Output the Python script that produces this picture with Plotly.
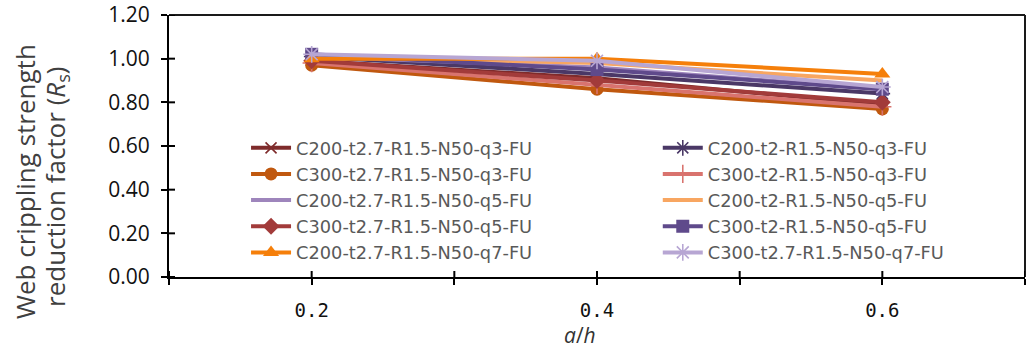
import plotly.graph_objects as go

# a/h ratios tested
a_h = [0.2, 0.4, 0.6]

# Reduction factor Rs for each specimen series
names = [
    "C200-t2.7-R1.5-N50-q3-FU",
    "C200-t2-R1.5-N50-q3-FU",
    "C300-t2.7-R1.5-N50-q3-FU",
    "C300-t2-R1.5-N50-q3-FU",
    "C200-t2.7-R1.5-N50-q5-FU",
    "C200-t2-R1.5-N50-q5-FU",
    "C300-t2.7-R1.5-N50-q5-FU",
    "C300-t2-R1.5-N50-q5-FU",
    "C200-t2.7-R1.5-N50-q7-FU",
    "C300-t2.7-R1.5-N50-q7-FU",
]
rs_c200_t27_q3 = [0.99, 0.91, 0.79]
rs_c200_t2_q3 = [1.01, 0.93, 0.84]
rs_c300_t27_q3 = [0.97, 0.86, 0.77]
rs_c300_t2_q3 = [0.98, 0.88, 0.78]
rs_c200_t27_q5 = [1.01, 0.96, 0.86]
rs_c200_t2_q5 = [1.01, 0.98, 0.90]
rs_c300_t27_q5 = [0.99, 0.90, 0.80]
rs_c300_t2_q5 = [1.02, 0.95, 0.86]
rs_c200_t27_q7 = [1.00, 1.00, 0.93]
rs_c300_t27_q7 = [1.02, 0.99, 0.87]
values = [
    rs_c200_t27_q3, rs_c200_t2_q3, rs_c300_t27_q3, rs_c300_t2_q3,
    rs_c200_t27_q5, rs_c200_t2_q5, rs_c300_t27_q5, rs_c300_t2_q5,
    rs_c200_t27_q7, rs_c300_t27_q7,
]

colors = ["#7e2b2b", "#4a3866", "#c0580f", "#d9736e", "#9e85bc",
          "#f8a661", "#a23b3a", "#5f4a8b", "#f57f0a", "#b7a6d3"]
symbols = ["x-thin-open", "asterisk-open", "circle", "cross-thin-open", None,
           None, "diamond", "square", "triangle-up", "asterisk-open"]
sizes = [11, 13, 13, 13, 0, 0, 13, 13, 14, 14]

x_ticks = [0.1, 0.2, 0.3, 0.4, 0.5, 0.6, 0.7]
x_ticktext = ["", "0.2", "", "0.4", "", "0.6", ""]
y_ticks = [0.0, 0.2, 0.4, 0.6, 0.8, 1.0, 1.2]

fig = go.Figure()
for i, (nm, v) in enumerate(zip(names, values)):
    col = colors[i]
    sym = symbols[i]
    if sym is None:
        marker = dict(size=1, opacity=0)
        mode = "lines"
    else:
        thin = sym.endswith("open")
        marker = dict(symbol=sym, size=sizes[i], color=col,
                      line=dict(color=col, width=1.6 if thin else 0))
        mode = "lines+markers"
    fig.add_trace(go.Scatter(
        x=a_h, y=v, name=nm, mode=mode, marker=marker,
        line=dict(color=col, width=4),
        legend="legend" if i % 2 == 0 else "legend2",
        legendgroup=f"g{i}",
    ))

legend_common = dict(
    bgcolor="rgba(0,0,0,0)", font=dict(family="DejaVu Sans", size=17.8, color="#595959"),
    itemwidth=40, xanchor="left", yanchor="top", y=0.562, tracegroupgap=0,
)

# frame along the top and right of the plot area
shapes = [
    dict(type="line", xref="paper", yref="paper", x0=0, x1=1, y0=1, y1=1,
         line=dict(color="#1a1a1a", width=2), layer="above"),
    dict(type="line", xref="paper", yref="paper", x0=1, x1=1, y0=0, y1=1,
         line=dict(color="#1a1a1a", width=2), layer="above"),
]
# inner half of the cross-style tick marks
for t in x_ticks:
    shapes.append(dict(type="line", xref="x", x0=t, x1=t, yref="paper",
                       ysizemode="pixel", yanchor=0, y0=0, y1=6,
                       line=dict(color="black", width=2), layer="above"))
for t in y_ticks:
    shapes.append(dict(type="line", yref="y", y0=t, y1=t, xref="paper",
                       xsizemode="pixel", xanchor=0, x0=0, x1=6,
                       line=dict(color="black", width=2), layer="above"))

fig.update_layout(
    width=1033, height=349,
    margin=dict(l=169, r=8, t=15, b=72, autoexpand=False),
    paper_bgcolor="white", plot_bgcolor="white",
    showlegend=True,
    legend=dict(x=0.09, **legend_common),
    legend2=dict(x=0.571, **legend_common),
    xaxis=dict(
        range=[0.1, 0.7], tickvals=x_ticks, ticktext=x_ticktext,
        ticks="outside", ticklen=6, tickwidth=2, tickcolor="black",
        showline=True, linecolor="black", linewidth=2,
        showgrid=False, zeroline=False, ticklabelstandoff=9,
        tickfont=dict(family="DejaVu Sans Mono", size=19, color="#111111"),
    ),
    yaxis=dict(
        range=[0, 1.2], tickvals=y_ticks, tickformat=".2f",
        ticks="outside", ticklen=6, tickwidth=2, tickcolor="black",
        showline=True, linecolor="black", linewidth=2,
        showgrid=False, zeroline=False, ticklabelstandoff=7,
        tickfont=dict(family="Open Sans", size=21, color="#111111"),
    ),
    shapes=shapes,
    annotations=[
        dict(text="<i>a</i>/<i>h</i>", xref="paper", yref="paper",
             x=(580 - 169) / 856, y=-(335 - 277) / 262, xanchor="center", yanchor="middle",
             showarrow=False, borderpad=0,
             font=dict(family="Open Sans", size=21, color="#333333")),
        dict(text="Web crippling strength", xref="paper", yref="paper",
             x=-(169 - 25) / 856, y=(277 - 182) / 262, xanchor="center", yanchor="middle",
             textangle=-90, showarrow=False,
             font=dict(family="Open Sans", size=26, color="#404040")),
        dict(text="reduction factor (<i>R</i><sub>s</sub>)", xref="paper", yref="paper",
             x=-(169 - 56) / 856, y=(277 - 187) / 262, xanchor="center", yanchor="middle",
             textangle=-90, showarrow=False,
             font=dict(family="Open Sans", size=26, color="#404040")),
    ],
)

fig.write_html("out.html")
